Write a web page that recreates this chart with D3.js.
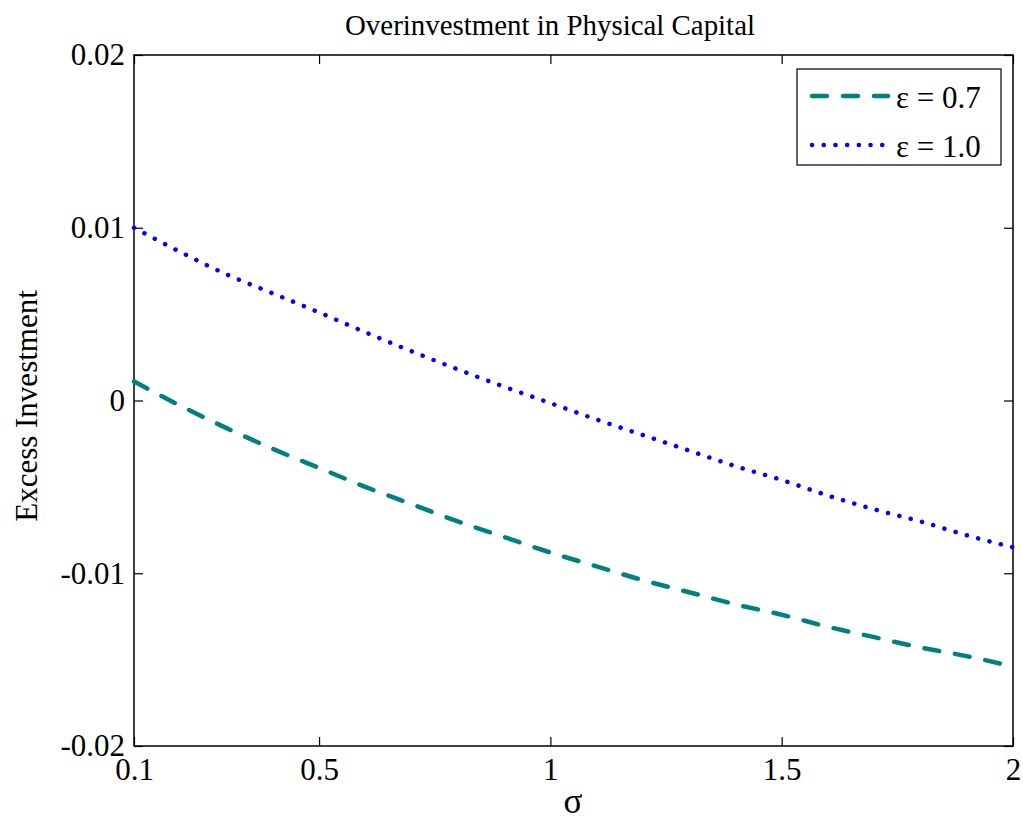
<!DOCTYPE html>
<html>
<head>
<meta charset="utf-8">
<script src="https://cdn.jsdelivr.net/npm/d3@7/dist/d3.min.js"></script>
<style>
  html, body { margin: 0; padding: 0; background: #fff; }
  svg { display: block; }
  text { font-family: "Liberation Serif", "DejaVu Serif", serif !important; fill: #000; }
</style>
</head>
<body>
<svg id="chart" width="1023" height="825"></svg>
<script>
const sigma = [0.1,0.2,0.3,0.4,0.5,0.6,0.7,0.8,0.9,1.0,1.1,1.2,1.3,1.4,1.5,1.6,1.7,1.8,1.9,2.0];
const eps07 = [0.0011,-0.0003,-0.0016,-0.0028,-0.0039,-0.0050,-0.0060,-0.0070,-0.0079,-0.0088,-0.0096,-0.0104,-0.0111,-0.0118,-0.0124,-0.0131,-0.0137,-0.0143,-0.0148,-0.0154];
const eps10 = [0.0100,0.0086,0.0073,0.0062,0.0051,0.00395,0.00285,0.0018,0.0008,-0.00015,-0.0011,-0.0020,-0.0029,-0.0038,-0.0046,-0.0055,-0.0063,-0.0070,-0.0078,-0.0085];
const xTicks = [0.1,0.5,1,1.5,2];
const xTickLabels = ["0.1","0.5","1","1.5","2"];
const yTicks = [-0.02,-0.01,0,0.01,0.02];
const yTickLabels = ["-0.02","-0.01","0","0.01","0.02"];
const seriesNames = ["\u03b5 = 0.7","\u03b5 = 1.0"];
const titleText = "Overinvestment in Physical Capital";
const xLabel = "\u03c3";
const yLabel = "Excess Investment";

const FONT = "Liberation Serif";
const svg = d3.select("#chart");
const L = 134, R = 1013, T = 55, B = 746;
const x = d3.scaleLinear().domain([0.1, 2]).range([L, R]);
const y = d3.scaleLinear().domain([-0.02, 0.02]).range([B, T]);

// frame
svg.append("rect").attr("x", L).attr("y", T).attr("width", R - L).attr("height", B - T)
  .attr("fill", "none").attr("stroke", "#000").attr("stroke-width", 1.5);

const tl = 9;
const gB = svg.append("g").attr("transform", `translate(0,${B})`)
  .call(d3.axisBottom(x).tickValues(xTicks).tickFormat((d,i)=>xTickLabels[i]).tickSize(-tl).tickPadding(12));
const gT = svg.append("g").attr("transform", `translate(0,${T})`)
  .call(d3.axisTop(x).tickValues(xTicks).tickFormat("").tickSize(-tl));
const gL = svg.append("g").attr("transform", `translate(${L},0)`)
  .call(d3.axisLeft(y).tickValues(yTicks).tickFormat((d,i)=>yTickLabels[i]).tickSize(-tl).tickPadding(9));
const gR = svg.append("g").attr("transform", `translate(${R},0)`)
  .call(d3.axisRight(y).tickValues(yTicks).tickFormat("").tickSize(-tl));
[gB, gT, gL, gR].forEach(g => {
  g.attr("font-family", FONT).attr("font-size", 31);
  g.select(".domain").remove();
  g.selectAll(".tick line").attr("stroke", "#000").attr("stroke-width", 1.2);
  g.selectAll("text").attr("font-family", FONT).attr("font-size", 31).attr("fill", "#000");
});

// lines
const line = d3.line().x((d,i)=>x(sigma[i])).y(d=>y(d)).curve(d3.curveMonotoneX);
svg.append("path").datum(eps07).attr("d", line)
  .attr("fill","none").attr("stroke","#008080").attr("stroke-width",4.5)
  .attr("stroke-dasharray","15 16").attr("stroke-linecap","round");
svg.append("path").datum(eps10).attr("d", line)
  .attr("fill","none").attr("stroke","#0000ff").attr("stroke-width",4.5)
  .attr("stroke-dasharray","0.1 11.6").attr("stroke-linecap","round");

// title & labels
svg.append("text").attr("x", 550).attr("y", 35).attr("text-anchor","middle")
  .attr("font-family", FONT).attr("font-size", 29)
  .attr("textLength", 410).attr("lengthAdjust", "spacingAndGlyphs").text(titleText);
svg.append("text").attr("x", 573).attr("y", 813).attr("text-anchor","middle")
  .attr("font-family", FONT).attr("font-size", 35).text(xLabel);
svg.append("text").attr("transform","translate(37,406) rotate(-90)").attr("text-anchor","middle")
  .attr("font-family", FONT).attr("font-size", 31).text(yLabel);

// legend
const lg = svg.append("g");
lg.append("rect").attr("x", 797).attr("y", 69).attr("width", 204).attr("height", 96)
  .attr("fill","#fff").attr("stroke","#000").attr("stroke-width",1.2);
const legendStyles = [
  {color:"#008080", dash:"15 16"},
  {color:"#0000ff", dash:"0.1 11.6"}
];
seriesNames.forEach((name,i)=>{
  const yy = 96 + i*49;
  lg.append("line").attr("x1", 812).attr("x2", 888).attr("y1", yy).attr("y2", yy)
    .attr("stroke", legendStyles[i].color).attr("stroke-width",4.5)
    .attr("stroke-dasharray", legendStyles[i].dash).attr("stroke-linecap","round");
  lg.append("text").attr("x", 896).attr("y", yy + 12)
    .attr("font-family", FONT).attr("font-size", 31).text(name);
});
</script>
</body>
</html>
